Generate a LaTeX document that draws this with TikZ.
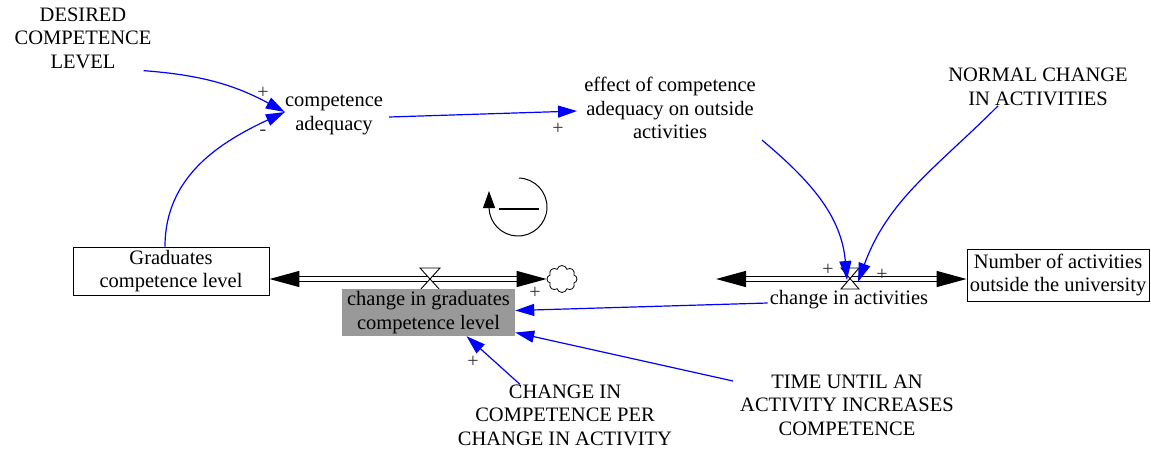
\documentclass[tikz,border=0pt]{standalone}
\usepackage{fontspec}
\setmainfont{Liberation Serif}
\usetikzlibrary{arrows.meta,shapes.symbols}
\definecolor{boxgray}{RGB}{153,153,153}
\begin{document}
\begin{tikzpicture}[x=1pt,y=-1pt,
  lbl/.style={align=center, font=\fontsize{20.5}{23.5}\selectfont, inner sep=0pt},
  lvl/.style={lbl, draw, line width=0.9pt},
  link/.style={blue, line width=1.2pt, -{Triangle[length=19pt,width=12pt]}},
  pipe/.style={double, double distance=4pt, line width=1.3pt,
    {Triangle[length=30pt,width=16pt]}-{Triangle[length=30pt,width=16pt]}},
  valve/.style={draw, fill=white, line width=0.9pt},
  sgn/.style={font=\fontsize{20}{20}\selectfont, inner sep=0pt, text=black!80}]
\useasboundingbox (0,0) rectangle (1151,448);

% variables
\node[lbl] (des) at (83,38) {DESIRED\\COMPETENCE\\LEVEL};
\node[lbl] (comp) at (334,115) {competence\\adequacy};
\node[lbl] (eff) at (670,108) {effect of competence\\adequacy on outside\\activities};
\node[lbl] (norm) at (1038,87) {NORMAL CHANGE\\IN ACTIVITIES};
\node[lbl] (cic) at (565,415) {CHANGE IN\\COMPETENCE PER\\CHANGE IN ACTIVITY};
\node[lbl] (time) at (847,405) {TIME UNTIL AN\\ACTIVITY INCREASES\\COMPETENCE};

% stocks
\node[lvl, minimum width=196pt, minimum height=48pt] (grad) at (171,271) {Graduates\\competence level};
\node[lvl, minimum width=182pt, minimum height=52pt] (num) at (1058,275) {Number of activities\\outside the university};

% cloud
\node[cloud, cloud puffs=8, draw, line width=0.8pt, minimum width=30pt, minimum height=27pt, inner sep=0pt] (cloud) at (562,279) {};

% flow 1
\coordinate (v1) at (430,279);
\draw[pipe] (grad.east |- v1) -- (cloud.west |- v1);
\draw[valve] ([shift={(-10,-11)}]v1) -- ([shift={(10,-11)}]v1) -- ([shift={(-10,11)}]v1) -- ([shift={(10,11)}]v1) -- cycle;
\node[lbl, fill=boxgray, minimum width=173pt, minimum height=47pt] (chg) at (428.5,312.5) {change in graduates\\competence level};

% flow 2
\coordinate (v2) at (850,279);
\coordinate (src) at (716,279);
\draw[pipe] (src) -- (num.west |- src);
\draw[valve] ([shift={(-9,-11)}]v2) -- ([shift={(9,-11)}]v2) -- ([shift={(-9,10)}]v2) -- ([shift={(9,10)}]v2) -- cycle;
\node[lbl] (act) at (849,300) {change in activities};

% loop symbol
\coordinate (loop) at (518,207);
\draw[line width=1pt, -{Triangle[length=17pt,width=12pt]}] (loop) ++(88:29pt) arc[start angle=88, end angle=-178, radius=29pt] -- ++(0,-17);
\draw[line width=2.8pt] ([shift={(-19,2)}]loop) -- ([shift={(21,2)}]loop);

% links
\draw[link] ([shift={(-8,2)}]des.south east) to[bend left=12] ([shift={(0,-3)}]comp.west);
\draw[link] ([shift={(-6,0)}]grad.north) to[out=90,in=205] ([shift={(0,-3)}]comp.west);
\draw[link] ([shift={(6,2)}]comp.east) -- ([shift={(-7,3)}]eff.west);
\draw[link] ([shift={(6,1)}]eff.south east) to[out=-40,in=95] ([shift={(-3,1)}]v2);
\draw[link] ([shift={(-40,0)}]norm.south) to[out=-135,in=70] ([shift={(8,3)}]v2);
\draw[link] ([shift={(-2,3)}]act.west) -- ([shift={(0,-2)}]chg.east);
\draw[link] ([shift={(-45,0)}]cic.north) -- ([shift={(38,0)}]chg.south);
\draw[link] ([shift={(-7,-24)}]time.west) -- ([shift={(0,20)}]chg.east);

% signs
\node[sgn] (s1) at (263,93) {+};
\node[sgn] (s2) at (263,133) {-};
\node[sgn] (s3) at (558,129) {+};
\node[sgn] (s4) at (535,293) {+};
\node[sgn] (s5) at (473,362) {+};
\node[sgn] (s6) at (828,270) {+};
\node[sgn] (s7) at (882,275) {+};
\end{tikzpicture}
\end{document}
